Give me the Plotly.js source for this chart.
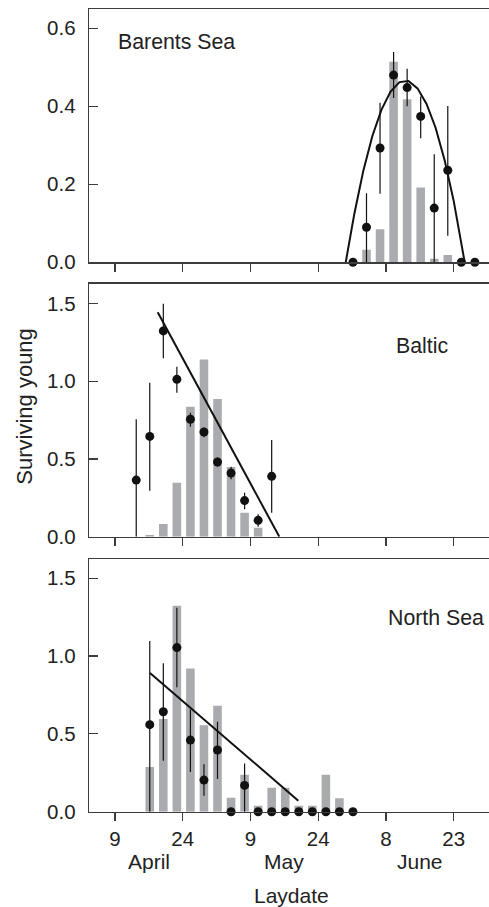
<!DOCTYPE html>
<html>
<head>
<meta charset="utf-8">
<script src="https://cdn.plot.ly/plotly-3.0.1.min.js"></script>
<style>html,body{margin:0;padding:0;background:#fff;}#chart{width:489px;height:907px;}</style>
</head>
<body>
<div id="chart"></div>
<script>
// x positions are days counted from 1 April (1 April = 1)
const tickDays = [9, 24, 39, 54, 69, 84];
const tickLabels = ['9', '24', '9', '24', '8', '23'];
const monthNames = ['April', 'May', 'June'];
const monthCentres = [16.5, 46.5, 76.5];

// Barents Sea
const barentsBarDays = [64.7, 67.7, 70.7, 73.7, 76.7, 79.7, 82.7];
const barentsBars = [0.032, 0.085, 0.514, 0.418, 0.192, 0.009, 0.019];
const barentsDays = [61.7, 64.7, 67.7, 70.7, 73.7, 76.7, 79.7, 82.7, 85.7, 88.7];
const barentsMean = [0, 0.090, 0.293, 0.480, 0.448, 0.374, 0.139, 0.236, 0, 0];
const barentsUpper = [0, 0.177, 0.409, 0.539, 0.496, 0.425, 0.277, 0.401, 0, 0];
const barentsLower = [0, 0, 0.176, 0.421, 0.400, 0.318, 0, 0.068, 0, 0];
const barentsFitDays = [60.1, 62, 64, 66, 68, 70, 72, 74, 76, 78, 80, 82, 84, 85.5, 86.45];
const barentsFit = [0, 0.124, 0.235, 0.324, 0.391, 0.437, 0.462, 0.465, 0.446, 0.406, 0.345, 0.262, 0.158, 0.065, 0];

// Baltic
const balticBarDays = [16.7, 19.7, 22.7, 25.7, 28.7, 31.7, 34.7, 37.7, 40.7];
const balticBars = [0.011, 0.081, 0.347, 0.836, 1.140, 0.885, 0.448, 0.154, 0.058];
const balticDays = [13.7, 16.7, 19.7, 22.7, 25.7, 28.7, 31.7, 34.7, 37.7, 40.7, 43.7];
const balticMean = [0.364, 0.645, 1.323, 1.012, 0.755, 0.673, 0.480, 0.409, 0.232, 0.105, 0.388];
const balticUpper = [0.755, 0.990, 1.498, 1.093, 0.797, 0.700, 0.510, 0.450, 0.283, 0.144, 0.622];
const balticLower = [0, 0.296, 1.147, 0.926, 0.707, 0.640, 0.450, 0.370, 0.176, 0.064, 0.154];
const balticFitDays = [18.46, 45.39];
const balticFit = [1.443, 0];

// North Sea
const northBarDays = [16.7, 19.7, 22.7, 25.7, 28.7, 31.7, 34.7, 37.7, 40.7, 43.7, 46.7, 49.7, 52.7, 55.7, 58.7];
const northBars = [0.287, 0.595, 1.323, 0.919, 0.555, 0.681, 0.090, 0.238, 0.039, 0.154, 0.154, 0.039, 0.039, 0.238, 0.086];
const northDays = [16.7, 19.7, 22.7, 25.7, 28.7, 31.7, 34.7, 37.7, 40.7, 43.7, 46.7, 49.7, 52.7, 55.7, 58.7, 61.7];
const northMean = [0.559, 0.642, 1.054, 0.460, 0.203, 0.396, 0, 0.169, 0, 0, 0, 0, 0, 0, 0, 0];
const northUpper = [1.096, 0.953, 1.310, 0.657, 0.304, 0.578, 0, 0.310, 0, 0, 0, 0, 0, 0, 0, 0];
const northLower = [0, 0.328, 0.799, 0.255, 0.103, 0.210, 0, 0, 0, 0, 0, 0, 0, 0, 0, 0];
const northFitDays = [16.75, 49.6];
const northFit = [0.891, 0.071];

const panelNames = ['Barents Sea', 'Baltic', 'North Sea'];

const BAR = '#aaabae', INK = '#111111', AX = '#3c3c3c', TXT = '#222222';
const FONT = 'Liberation Sans, Arial, Helvetica, sans-serif';

function panel(xa, ya, barX, barY, px, mean, up, lo, fx, fy) {
  return [
    {type: 'bar', x: barX, y: barY, xaxis: xa, yaxis: ya, width: 1.9,
     marker: {color: BAR, line: {width: 0}}, hoverinfo: 'skip'},
    {type: 'scatter', mode: 'lines', x: fx, y: fy, xaxis: xa, yaxis: ya,
     line: {color: INK, width: 2}, cliponaxis: false, hoverinfo: 'skip'},
    {type: 'scatter', mode: 'markers', x: px, y: mean, xaxis: xa, yaxis: ya,
     marker: {color: INK, size: 9}, cliponaxis: false,
     error_y: {type: 'data', symmetric: false,
       array: up.map((u, i) => u - mean[i]),
       arrayminus: lo.map((l, i) => mean[i] - l),
       color: INK, thickness: 1.2, width: 0},
     hoverinfo: 'skip'}
  ];
}

const data = [].concat(
  panel('x', 'y', barentsBarDays, barentsBars, barentsDays, barentsMean, barentsUpper, barentsLower, barentsFitDays, barentsFit),
  panel('x2', 'y2', balticBarDays, balticBars, balticDays, balticMean, balticUpper, balticLower, balticFitDays, balticFit),
  panel('x3', 'y3', northBarDays, northBars, northDays, northMean, northUpper, northLower, northFitDays, northFit)
);

function xaxis(anchor, labels) {
  return {anchor: anchor, domain: [89 / 489, 1], range: [3.24, 91.83],
    tickmode: 'array', tickvals: tickDays, ticktext: tickLabels,
    showticklabels: labels, ticks: 'outside', ticklen: 8, tickwidth: 1.3, tickcolor: AX,
    showline: true, mirror: true, linecolor: AX, linewidth: 1.3,
    showgrid: false, zeroline: false, tickfont: {size: 20.5, color: TXT, family: FONT}};
}
function yaxis(anchor, dom, rng, vals, txt) {
  return {anchor: anchor, domain: dom, range: rng,
    tickmode: 'array', tickvals: vals, ticktext: txt,
    ticks: 'inside', ticklen: 9, tickwidth: 1.3, tickcolor: AX, ticklabelstandoff: 8,
    showline: true, linecolor: AX, linewidth: 1.3,
    showgrid: false, zeroline: false, tickfont: {size: 20.5, color: TXT, family: FONT}};
}
const yd = (top, bot) => [1 - bot / 907, 1 - top / 907];

const annotations = [];
const labelPos = [[116, 42.3], [394, 345.7], [386, 617.7]];
panelNames.forEach((n, i) => annotations.push({
  text: n, xref: 'paper', yref: 'paper', x: labelPos[i][0] / 489, y: 1 - labelPos[i][1] / 907,
  xanchor: 'left', yanchor: 'middle', showarrow: false,
  font: {size: 21.3, color: TXT, family: FONT}}));
monthNames.forEach((m, i) => annotations.push({
  text: m, xref: 'x3', yref: 'paper', x: monthCentres[i], y: 1 - 861.7 / 907,
  xanchor: 'center', yanchor: 'middle', showarrow: false,
  font: {size: 21, color: TXT, family: FONT}}));
annotations.push({text: 'Laydate', xref: 'paper', yref: 'paper', x: 291.8 / 489, y: 1 - 895 / 907,
  xanchor: 'center', yanchor: 'middle', showarrow: false, font: {size: 21, color: TXT, family: FONT}});
annotations.push({text: 'Surviving young', xref: 'paper', yref: 'paper', x: 25 / 489, y: 1 - 406.7 / 907,
  xanchor: 'center', yanchor: 'middle', textangle: -90, showarrow: false,
  font: {size: 22, color: TXT, family: FONT}});

const layout = {
  width: 489, height: 907, margin: {l: 0, r: 0, t: 0, b: 0},
  paper_bgcolor: '#fff', plot_bgcolor: '#fff', showlegend: false, hovermode: false,
  barmode: 'overlay',
  xaxis: xaxis('y', false), xaxis2: xaxis('y2', false), xaxis3: xaxis('y3', true),
  yaxis: yaxis('x', yd(9, 262.3), [0, 0.6495], [0, 0.2, 0.4, 0.6], ['0.0', '0.2', '0.4', '0.6']),
  yaxis2: yaxis('x2', yd(283.5, 536.7), [0, 1.628], [0, 0.5, 1, 1.5], ['0.0', '0.5', '1.0', '1.5']),
  yaxis3: yaxis('x3', yd(559, 811.7), [0, 1.623], [0, 0.5, 1, 1.5], ['0.0', '0.5', '1.0', '1.5']),
  annotations: annotations,
  font: {family: FONT}
};

Plotly.newPlot('chart', data, layout, {staticPlot: true, displayModeBar: false});
</script>
</body>
</html>
